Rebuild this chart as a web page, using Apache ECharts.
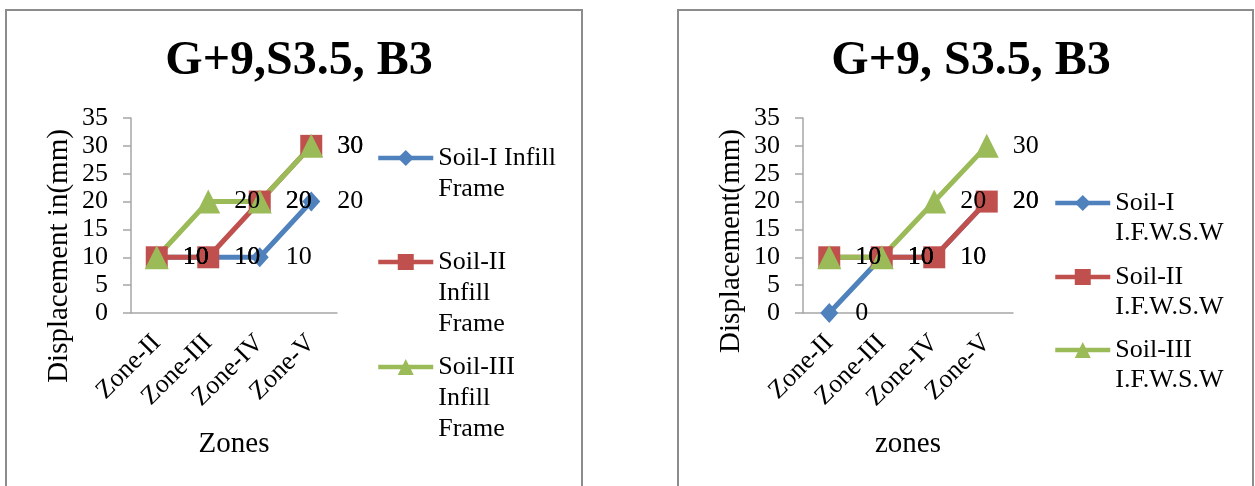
<!DOCTYPE html>
<html><head><meta charset="utf-8">
<script src="https://cdn.jsdelivr.net/npm/echarts@6/dist/echarts.min.js"></script>
<style>html,body{margin:0;padding:0;background:#fff}#c{width:1255px;height:486px}</style>
</head><body><div id="c"></div>
<script>
// ---- data ----
const zones = ['Zone-II', 'Zone-III', 'Zone-IV', 'Zone-V'];
const yMin = 0, yMax = 35, yStep = 5;
const leftTitle = 'G+9,S3.5, B3';
const rightTitle = 'G+9, S3.5, B3';
const leftYName = 'Displacement in(mm)';
const rightYName = 'Displacement(mm)';
const leftXName = 'Zones';
const rightXName = 'zones';
const leftNames = ['Soil-I Infill Frame', 'Soil-II Infill Frame', 'Soil-III Infill Frame'];
const leftLegendText = ['Soil-I Infill\nFrame', 'Soil-II\nInfill\nFrame', 'Soil-III\nInfill\nFrame'];
const rightNames = ['Soil-I I.F.W.S.W', 'Soil-II I.F.W.S.W', 'Soil-III I.F.W.S.W'];
const rightLegendText = ['Soil-I\nI.F.W.S.W', 'Soil-II\nI.F.W.S.W', 'Soil-III\nI.F.W.S.W'];
const leftSoil1 = [10, 10, 10, 20];
const leftSoil2 = [10, 10, 20, 30];
const leftSoil3 = [10, 20, 20, 30];
const rightSoil1 = [0, 10, 10, 20];
const rightSoil2 = [10, 10, 10, 20];
const rightSoil3 = [10, 10, 20, 30];

// ---- style ----
const FONT = '"Liberation Serif", "Times New Roman", serif';
const colors = ['#4F81BD', '#C0504D', '#9BBB59'];
const symbols = ['diamond', 'rect', 'triangle'];
const symSizes = [[18, 20], 22, 24];
const labelDist = [17, 15, 14];
const AXIS = '#a6a6a6';

const chart = echarts.init(document.getElementById('c'), null, {renderer: 'canvas'});

function mkSeries(name, data, i, axisIdx) {
  return {
    name: name, type: 'line', data: data,
    xAxisIndex: axisIdx, yAxisIndex: axisIdx,
    symbol: symbols[i], symbolSize: symSizes[i],
    color: colors[i],
    lineStyle: {width: 5, color: colors[i]},
    itemStyle: {color: colors[i]},
    animation: false,
    label: {show: true, position: 'right', distance: labelDist[i], fontSize: 26,
            fontFamily: FONT, color: '#000'}
  };
}
function mkX(gridIdx, name) {
  return {
    type: 'category', gridIndex: gridIdx, data: zones, boundaryGap: true,
    axisLine: {lineStyle: {color: AXIS, width: 1.5}},
    axisTick: {show: false},
    axisLabel: {rotate: 45, fontSize: 26, fontFamily: FONT, color: '#000', margin: 26, interval: 0},
    name: name, nameLocation: 'middle', nameGap: 117,
    nameTextStyle: {fontSize: 29, fontFamily: FONT, color: '#000'}
  };
}
function mkY(gridIdx) {
  return {
    type: 'value', gridIndex: gridIdx, min: yMin, max: yMax, interval: yStep,
    axisLine: {show: true, lineStyle: {color: AXIS, width: 1.5}},
    axisTick: {show: true, length: 8, lineStyle: {color: AXIS, width: 1.5}},
    splitLine: {show: false},
    axisLabel: {fontSize: 26, fontFamily: FONT, color: '#000', margin: 23}
  };
}
// icon aligned with first text line: leading blank lines balance the block
function mkLegend(name, text, left, iconY, lh) {
  const n = text.split('\n').length;
  const shown = '\n'.repeat(n - 1) + text;
  return {
    data: [name], left: left, top: iconY - (2 * n - 1) * lh / 2, orient: 'vertical', padding: 0,
    itemWidth: 55, itemHeight: 20, itemGap: 0,
    lineStyle: {width: 4.5},
    formatter: () => shown,
    selectedMode: false,
    textStyle: {fontSize: 26, fontFamily: FONT, color: '#000', lineHeight: lh}
  };
}

const option = {
  backgroundColor: '#fff',
  animation: false,
  title: [
    {text: leftTitle, left: 294, top: 33, textAlign: 'center',
     textStyle: {fontSize: 48, fontWeight: 'bold', fontFamily: FONT, color: '#000'}},
    {text: rightTitle, left: 966, top: 33, textAlign: 'center',
     textStyle: {fontSize: 48, fontWeight: 'bold', fontFamily: FONT, color: '#000'}}
  ],
  grid: [
    {left: 131, top: 118, width: 206, height: 195},
    {left: 803, top: 118, width: 210, height: 195}
  ],
  xAxis: [mkX(0, leftXName), mkX(1, rightXName)],
  yAxis: [mkY(0), mkY(1)],
  legend: [
    mkLegend(leftNames[0], leftLegendText[0], 376, 158, 31),
    mkLegend(leftNames[1], leftLegendText[1], 376, 262, 31),
    mkLegend(leftNames[2], leftLegendText[2], 376, 367, 31),
    mkLegend(rightNames[0], rightLegendText[0], 1053, 203, 30),
    mkLegend(rightNames[1], rightLegendText[1], 1053, 277, 30),
    mkLegend(rightNames[2], rightLegendText[2], 1053, 350, 30)
  ],
  series: [
    mkSeries(leftNames[0], leftSoil1, 0, 0),
    mkSeries(leftNames[1], leftSoil2, 1, 0),
    mkSeries(leftNames[2], leftSoil3, 2, 0),
    mkSeries(rightNames[0], rightSoil1, 0, 1),
    mkSeries(rightNames[1], rightSoil2, 1, 1),
    mkSeries(rightNames[2], rightSoil3, 2, 1)
  ],
  graphic: [
    {type: 'rect', shape: {x: 6, y: 10, width: 576, height: 500}, silent: true, z: -10,
     style: {fill: 'none', stroke: '#8c8c8c', lineWidth: 2}},
    {type: 'rect', shape: {x: 678, y: 10, width: 575, height: 500}, silent: true, z: -10,
     style: {fill: 'none', stroke: '#8c8c8c', lineWidth: 2}},
    {type: 'text', x: 59, y: 256, rotation: Math.PI / 2, silent: true,
     style: {text: leftYName, fontSize: 29, fontFamily: FONT, fill: '#000',
             align: 'center', verticalAlign: 'middle'}},
    {type: 'text', x: 731, y: 241, rotation: Math.PI / 2, silent: true,
     style: {text: rightYName, fontSize: 29, fontFamily: FONT, fill: '#000',
             align: 'center', verticalAlign: 'middle'}}
  ]
};
chart.setOption(option);
</script>
</body></html>
